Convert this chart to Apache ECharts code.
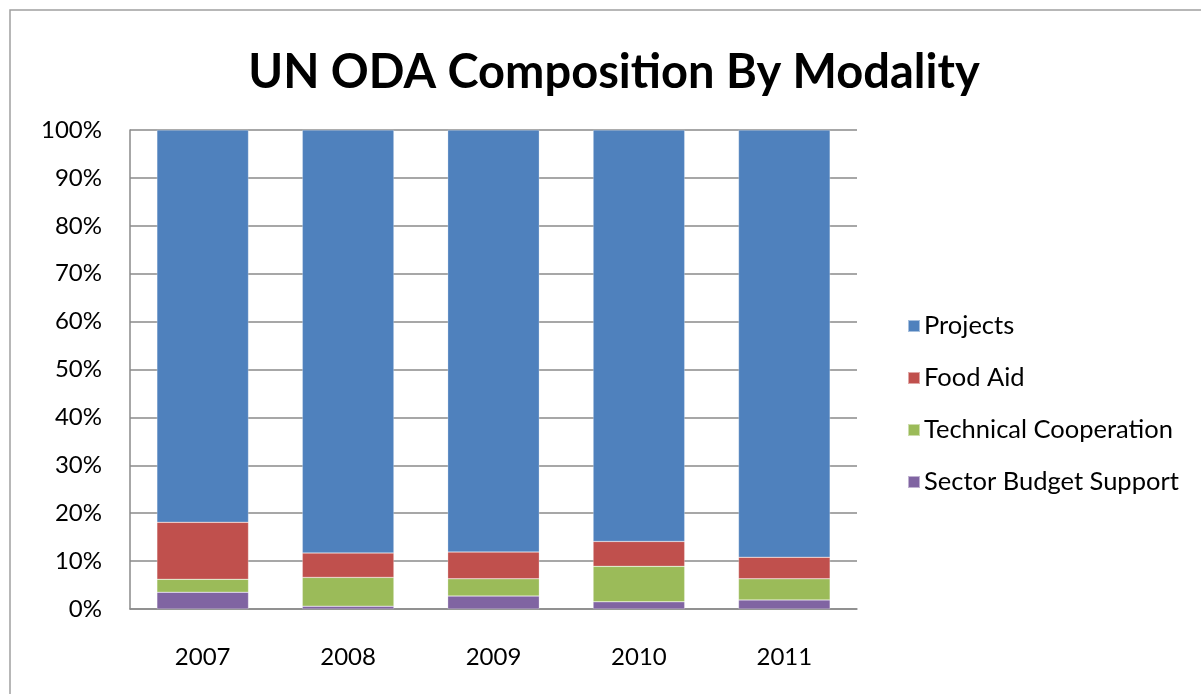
<!DOCTYPE html>
<html><head><meta charset="utf-8">
<script src="https://cdn.jsdelivr.net/npm/echarts@6/dist/echarts.min.js"></script>
<style>html,body{margin:0;padding:0;background:#fff}#c{width:1201px;height:694px}</style>
</head><body><div id="c"></div>
<script>
const categories = ['2007','2008','2009','2010','2011'];
const sectorBudgetSupport = [3.5, 0.6, 2.7, 1.5, 1.9];
const technicalCooperation = [2.7, 6.0, 3.6, 7.4, 4.4];
const foodAid = [11.9, 5.1, 5.6, 5.2, 4.5];
const projects = [81.9, 88.3, 88.1, 85.9, 89.2];
const yTicks = ['0%','10%','20%','30%','40%','50%','60%','70%','80%','90%','100%'];

const font = 'Lato, "Open Sans", sans-serif';
const chart = echarts.init(document.getElementById('c'));
function ser(name, data, color){
  return {name, type:'bar', stack:'all', data, barWidth:'63%',
    itemStyle:{color, borderColor:'rgba(255,255,255,0.5)', borderWidth:0.5}};
}
chart.setOption({
  animation:false,
  title:{text:'UN ODA Composition By Modality', left:609, top:44, textAlign:'center',
    textStyle:{fontFamily:font, fontWeight:'bold', fontSize:47, color:'#000'}},
  graphic:[{type:'polyline', shape:{points:[[10,694],[10,10],[1201,10]]},
    style:{stroke:'#a0a0a0', lineWidth:1.5, fill:null}}],
  grid:{left:130, top:130, width:727, height:479},
  legend:{orient:'vertical', left:902, top:308, itemWidth:12, itemHeight:12, itemGap:26,
    icon:'rect',
    data:['Projects','Food Aid','Technical Cooperation','Sector Budget Support'],
    textStyle:{fontFamily:font, fontSize:25.5, lineHeight:26, color:'#000', padding:[0,0,0,-1]}},
  xAxis:{type:'category', data:categories,
    axisLine:{lineStyle:{color:'#8a8a8a', width:1.5}},
    axisTick:{show:false},
    axisLabel:{fontFamily:font, fontSize:24, color:'#000', margin:36}},
  yAxis:{type:'value', min:0, max:100, interval:10,
    axisLine:{show:true, lineStyle:{color:'#8a8a8a', width:1.5}},
    axisTick:{show:false},
    splitLine:{lineStyle:{color:'#8a8a8a', width:1.5}},
    axisLabel:{fontFamily:font, fontSize:24, color:'#000', margin:28,
      formatter:(v)=>yTicks[Math.round(v/10)]}},
  series:[
    ser('Sector Budget Support', sectorBudgetSupport, '#8064a2'),
    ser('Technical Cooperation', technicalCooperation, '#9bbb59'),
    ser('Food Aid', foodAid, '#c0504d'),
    ser('Projects', projects, '#4f81bd')
  ]
});
</script></body></html>
